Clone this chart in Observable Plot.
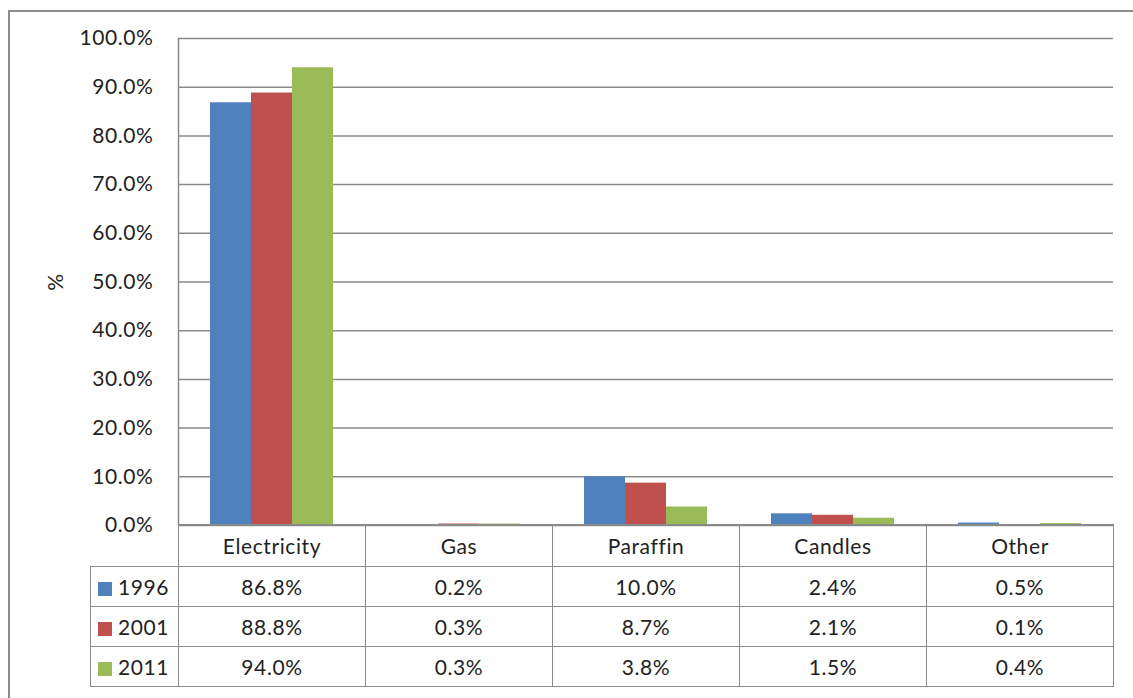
<!DOCTYPE html>
<html>
<head>
<meta charset="utf-8">
<script src="https://cdn.jsdelivr.net/npm/d3@7"></script>
<script src="https://cdn.jsdelivr.net/npm/@observablehq/plot@0.6"></script>
<style>
  html, body { margin: 0; padding: 0; background: #fff; }
  #wrap { position: relative; width: 1133px; height: 698px; overflow: hidden; font-family: Lato, "Liberation Sans", sans-serif; color: #222; }
  #outer { position: absolute; left: 8px; top: 10px; right: -20px; bottom: -20px; border-left: 2px solid #8c8c8c; border-top: 2px solid #8c8c8c; }
  #chart { position: absolute; left: 0; top: 0; z-index: 2; }
  #chart svg { overflow: visible; background: transparent; }
  table { position: absolute; left: 90px; top: 524px; border-collapse: collapse; table-layout: fixed; z-index: 3; background: transparent; font-size: 21px; letter-spacing: 0.6px; }
  td { border: 1.5px solid #8a8a8a; text-align: center; padding: 0; height: 40px; box-sizing: border-box; }
  tr.head td { height: 42px; }
  td.blank { border-top: none; border-left: none; }
  td.leg { text-align: left; padding-left: 7px; }
  .sw { display: inline-block; width: 14px; height: 14px; margin-right: 6px; vertical-align: -1px; }
</style>
</head>
<body>
<div id="wrap">
  <div id="outer"></div>
  <div id="chart"></div>
</div>
<script>
const categories = ["Electricity", "Gas", "Paraffin", "Candles", "Other"];
const years = ["1996", "2001", "2011"];
const values1996 = [86.8, 0.2, 10.0, 2.4, 0.5];
const values2001 = [88.8, 0.3, 8.7, 2.1, 0.1];
const values2011 = [94.0, 0.3, 3.8, 1.5, 0.4];
const colors = ["#4F81BD", "#C0504D", "#9BBB59"];
const yTicks = [0, 10, 20, 30, 40, 50, 60, 70, 80, 90, 100];
const yLabel = "%";

const series = [values1996, values2001, values2011];
const rows = [];
years.forEach((yr, i) => categories.forEach((c, j) => rows.push({category: c, year: yr, value: series[i][j]})));
const fmt = d => d.toFixed(1) + "%";

const marks = [
  Plot.gridY(yTicks, {stroke: "#8a8a8a", strokeOpacity: 1, strokeWidth: 1.5}),
  Plot.axisY(yTicks, {tickSize: 0, tickPadding: 25, tickFormat: fmt, label: yLabel, labelAnchor: "center", labelOffset: 130, labelArrow: "none", fill: "#222"}),
  Plot.barY(rows, {fx: "category", x: "year", y: "value", fill: "year"})
];
try { marks.push(Plot.frame({anchor: "left", facetAnchor: "left", stroke: "#8a8a8a", strokeWidth: 1.5})); } catch (e) {}

const chart = Plot.plot({
  width: 1133,
  height: 545,
  marginLeft: 178,
  marginRight: 20,
  marginTop: 38,
  marginBottom: 20,
  style: {fontFamily: "Lato, 'Liberation Sans', sans-serif", fontSize: "21px", letterSpacing: "0.6px", color: "#222", background: "transparent", overflow: "visible"},
  fx: {domain: categories, padding: 0, axis: null},
  x: {domain: years, paddingInner: 0, paddingOuter: 0.75, axis: null},
  y: {domain: [0, 100]},
  color: {domain: years, range: colors},
  marks
});
document.getElementById("chart").appendChild(chart);

// data table below the plot
const table = document.createElement("table");
const colgroup = document.createElement("colgroup");
[88, 187, 187, 187, 187, 187].forEach(w => { const c = document.createElement("col"); c.style.width = w + "px"; colgroup.appendChild(c); });
table.appendChild(colgroup);
const head = document.createElement("tr");
head.className = "head";
const blank = document.createElement("td"); blank.className = "blank"; head.appendChild(blank);
categories.forEach(c => { const td = document.createElement("td"); td.textContent = c; head.appendChild(td); });
table.appendChild(head);
years.forEach((yr, i) => {
  const tr = document.createElement("tr");
  const lg = document.createElement("td"); lg.className = "leg";
  const sw = document.createElement("span"); sw.className = "sw"; sw.style.background = colors[i];
  lg.appendChild(sw); lg.appendChild(document.createTextNode(yr));
  tr.appendChild(lg);
  series[i].forEach(v => { const td = document.createElement("td"); td.textContent = fmt(v); tr.appendChild(td); });
  table.appendChild(tr);
});
document.getElementById("wrap").appendChild(table);
</script>
</body>
</html>
